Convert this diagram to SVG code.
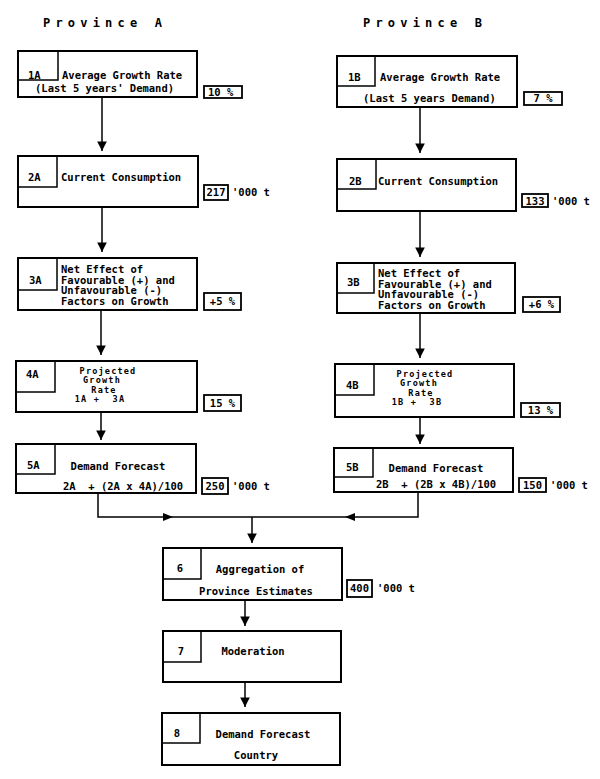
<svg xmlns="http://www.w3.org/2000/svg" width="600" height="779" viewBox="0 0 600 779">
<defs>
<style>
text{font-family:"DejaVu Sans Mono","Liberation Mono",monospace;font-weight:bold;font-size:10.5px;fill:#000;white-space:pre}
.title{font-size:12px;letter-spacing:5.2px}
.sm{font-size:8.5px;letter-spacing:1.2px}
.box{fill:#fff;stroke:#000;stroke-width:2}
.inner{fill:none;stroke:#000;stroke-width:1.5}
.val{fill:#fff;stroke:#000;stroke-width:1.8}
.c{text-anchor:middle}
.ln{fill:none;stroke:#000;stroke-width:1.5}
</style>
<marker id="ah" markerUnits="userSpaceOnUse" markerWidth="10" markerHeight="12" viewBox="0 0 8 10" refX="8" refY="5" orient="auto">
<path d="M0,1 L8,5 L0,9 Z" fill="#000"/>
</marker>
</defs>
<rect width="600" height="779" fill="#fff"/>
<text class="title" x="43" y="27">Province A</text>
<text class="title" x="363" y="27">Province B</text>

<g id="connectors">
<line class="ln" x1="102" y1="97" x2="102" y2="151" marker-end="url(#ah)"/>
<line class="ln" x1="102" y1="207" x2="102" y2="252" marker-end="url(#ah)"/>
<line class="ln" x1="101" y1="310" x2="101" y2="355" marker-end="url(#ah)"/>
<line class="ln" x1="101" y1="412" x2="101" y2="440" marker-end="url(#ah)"/>
<line class="ln" x1="420" y1="107" x2="420" y2="153" marker-end="url(#ah)"/>
<line class="ln" x1="420" y1="211" x2="420" y2="257" marker-end="url(#ah)"/>
<line class="ln" x1="420" y1="313" x2="420" y2="358" marker-end="url(#ah)"/>
<line class="ln" x1="420" y1="417" x2="420" y2="444" marker-end="url(#ah)"/>
<path class="ln" d="M98,493 V517 H418 V492"/>
<path d="M163,513 L173,517 L163,521 Z" fill="#000"/>
<path d="M355,513 L345,517 L355,521 Z" fill="#000"/>
<line class="ln" x1="252" y1="517" x2="252" y2="543" marker-end="url(#ah)"/>
<line class="ln" x1="245" y1="600" x2="245" y2="626" marker-end="url(#ah)"/>
<line class="ln" x1="245" y1="682" x2="245" y2="707" marker-end="url(#ah)"/>
</g>

<g id="node-1A">
<rect class="box" x="18" y="51" width="179" height="46"/>
<rect class="inner" x="18" y="51" width="40" height="29"/>
<text x="28" y="79">1A</text>
<text x="62" y="79">Average Growth Rate</text>
<text x="35" y="92">(Last 5 years' Demand)</text>
<rect class="val" x="204" y="86" width="38" height="12"/>
<text x="208" y="96">10 %</text>
</g>

<g id="node-1B">
<rect class="box" x="337" y="56" width="180" height="51"/>
<rect class="inner" x="337" y="56" width="38" height="30"/>
<text x="348" y="81">1B</text>
<text x="380" y="81">Average Growth Rate</text>
<text x="363" y="102">(Last 5 years Demand)</text>
<rect class="val" x="524" y="92" width="38" height="13"/>
<text x="543" y="102" class="c">7 %</text>
</g>

<g id="node-2A">
<rect class="box" x="18" y="156" width="180" height="51"/>
<rect class="inner" x="18" y="156" width="39" height="31"/>
<text x="28" y="181">2A</text>
<text x="61" y="181">Current Consumption</text>
<rect class="val" x="204" y="185" width="24" height="15"/>
<text x="216" y="196" class="c">217</text>
<text x="232" y="196">'000 t</text>
</g>

<g id="node-2B">
<rect class="box" x="337" y="159" width="179" height="52"/>
<rect class="inner" x="337" y="159" width="39" height="30"/>
<text x="349" y="185">2B</text>
<text x="378" y="185">Current Consumption</text>
<rect class="val" x="522" y="194" width="26" height="13"/>
<text x="535" y="204.5" class="c">133</text>
<text x="552" y="204.5">'000 t</text>
</g>

<g id="node-3A">
<rect class="box" x="18" y="258" width="179" height="52"/>
<rect class="inner" x="18" y="258" width="39" height="32"/>
<text x="29" y="284">3A</text>
<text x="61" y="273">Net Effect of</text>
<text x="61" y="283.5">Favourable (+) and</text>
<text x="61" y="294">Unfavourable (-)</text>
<text x="61" y="304.5">Factors on Growth</text>
<rect class="val" x="204" y="293" width="37" height="17"/>
<text x="222.5" y="305" class="c">+5 %</text>
</g>

<g id="node-3B">
<rect class="box" x="337" y="263" width="178" height="50"/>
<rect class="inner" x="337" y="263" width="37" height="30"/>
<text x="347" y="286">3B</text>
<text x="378" y="277">Net Effect of</text>
<text x="378" y="287.5">Favourable (+) and</text>
<text x="378" y="298">Unfavourable (-)</text>
<text x="378" y="308.5">Factors on Growth</text>
<rect class="val" x="523" y="297" width="37" height="15"/>
<text x="541.5" y="308" class="c">+6 %</text>
</g>

<g id="node-4A">
<rect class="box" x="16" y="361" width="181" height="51"/>
<rect class="inner" x="16" y="361" width="39" height="31"/>
<text x="26" y="378">4A</text>
<text x="108" y="373.5" class="c sm">Projected</text>
<text x="102" y="383" class="c sm">Growth</text>
<text x="104" y="392.5" class="c sm">Rate</text>
<text x="100" y="402" class="c sm">1A +  3A</text>
<rect class="val" x="204" y="395" width="37" height="16"/>
<text x="222.5" y="407" class="c">15 %</text>
</g>

<g id="node-4B">
<rect class="box" x="335" y="364" width="179" height="53"/>
<rect class="inner" x="335" y="364" width="39" height="31"/>
<text x="346" y="389">4B</text>
<text x="425" y="376.5" class="c sm">Projected</text>
<text x="419" y="386" class="c sm">Growth</text>
<text x="421" y="395.5" class="c sm">Rate</text>
<text x="417" y="405" class="c sm">1B +  3B</text>
<rect class="val" x="521" y="403" width="39" height="14"/>
<text x="540.5" y="414" class="c">13 %</text>
</g>

<g id="node-5A">
<rect class="box" x="16" y="444" width="180" height="49"/>
<rect class="inner" x="16" y="444" width="39" height="30"/>
<text x="27" y="469">5A</text>
<text x="118" y="470" class="c">Demand Forecast</text>
<text x="63" y="490">2A  + (2A x 4A)/100</text>
<rect class="val" x="202" y="478" width="26" height="16"/>
<text x="215" y="490" class="c">250</text>
<text x="232" y="490">'000 t</text>
</g>

<g id="node-5B">
<rect class="box" x="334" y="448" width="179" height="44"/>
<rect class="inner" x="334" y="448" width="39" height="29"/>
<text x="346" y="471">5B</text>
<text x="436" y="472" class="c">Demand Forecast</text>
<text x="376" y="488">2B  + (2B x 4B)/100</text>
<rect class="val" x="519" y="478" width="27" height="14"/>
<text x="532.5" y="489" class="c">150</text>
<text x="550" y="489">'000 t</text>
</g>

<g id="node-6">
<rect class="box" x="163" y="548" width="179" height="52"/>
<rect class="inner" x="163" y="548" width="38" height="31"/>
<text x="180" y="572" class="c">6</text>
<text x="260" y="573" class="c">Aggregation of</text>
<text x="256" y="595" class="c">Province Estimates</text>
<rect class="val" x="347" y="580" width="25" height="17"/>
<text x="359.5" y="592" class="c">400</text>
<text x="377" y="592">'000 t</text>
</g>

<g id="node-7">
<rect class="box" x="163" y="631" width="178" height="51"/>
<rect class="inner" x="163" y="631" width="38" height="31"/>
<text x="181" y="655" class="c">7</text>
<text x="253" y="655" class="c">Moderation</text>
</g>

<g id="node-8">
<rect class="box" x="162" y="713" width="178" height="52"/>
<rect class="inner" x="162" y="713" width="38" height="30"/>
<text x="177" y="737" class="c">8</text>
<text x="263" y="738" class="c">Demand Forecast</text>
<text x="256" y="759" class="c">Country</text>
</g>
</svg>
